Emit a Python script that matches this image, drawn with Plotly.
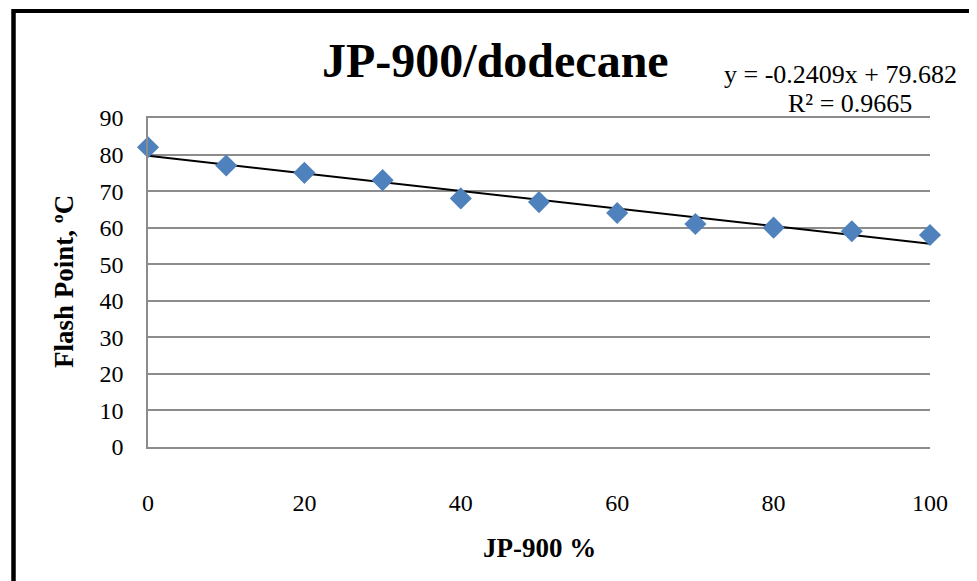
import plotly.graph_objects as go

# Data
jp900_pct = [0, 10, 20, 30, 40, 50, 60, 70, 80, 90, 100]
flash_point = [82, 77, 75, 73, 68, 67, 64, 61, 60, 59, 58]
slope = -0.2409
intercept = 79.682
x_ticks = [0, 20, 40, 60, 80, 100]
y_ticks = [0, 10, 20, 30, 40, 50, 60, 70, 80, 90]

trend_x = [min(jp900_pct), max(jp900_pct)]
trend_y = [slope * v + intercept for v in trend_x]

FONT = "Liberation Serif"
GRID = "#8C8C8C"

fig = go.Figure()
fig.add_trace(go.Scatter(
    x=trend_x, y=trend_y, mode="lines",
    line=dict(color="black", width=2), hoverinfo="skip", cliponaxis=False,
))
fig.add_trace(go.Scatter(
    x=jp900_pct, y=flash_point, mode="markers",
    marker=dict(symbol="diamond", size=17, color="#4F81BD"),
    cliponaxis=False,
))

# page body adds an 8px offset; work in screen coords and convert
OFF = 8
W, H = 977 - OFF, 581 - OFF
SL, SR, ST, SB = 148, 930, 118, 447  # plot area in screen px
L, T = SL - OFF, ST - OFF
R, B = W - (SR - OFF), H - (SB - OFF)
pw, ph = W - L - R, H - T - B

def px(xs):
    return (xs - OFF - L) / pw

def py(ys):
    return (H - B - (ys - OFF)) / ph

fig.update_layout(
    width=W, height=H,
    margin=dict(l=L, r=R, t=T, b=B),
    paper_bgcolor="white", plot_bgcolor="white",
    showlegend=False,
    font=dict(family=FONT, color="black"),
    xaxis=dict(
        range=[0, 100], tickvals=x_ticks, showgrid=False, zeroline=False,
        showline=True, mirror=True, linecolor=GRID, linewidth=1.5,
        ticks="", tickfont=dict(size=24, family=FONT),
        ticklabelstandoff=33,
    ),
    yaxis=dict(
        range=[0, 90], tickvals=y_ticks, showgrid=True, gridcolor=GRID,
        gridwidth=1.5, zeroline=False, showline=True, linecolor=GRID,
        linewidth=1.5, ticks="", tickfont=dict(size=24, family=FONT),
        ticklabelstandoff=18,
    ),
    shapes=[
        dict(type="line", xref="paper", yref="paper",
             x0=px(13.5), x1=px(990), y0=py(11), y1=py(11),
             line=dict(color="black", width=4)),
        dict(type="line", xref="paper", yref="paper",
             x0=px(13.5), x1=px(13.5), y0=py(9), y1=py(600),
             line=dict(color="black", width=4.5)),
    ],
    annotations=[
        dict(text="<b>JP-900/dodecane</b>", xref="paper", yref="paper",
             x=px(495), y=py(60), showarrow=False,
             font=dict(size=48, family=FONT), xanchor="center", yanchor="middle"),
        dict(text="y = -0.2409x + 79.682", xref="paper", yref="paper",
             x=px(959), y=py(74), showarrow=False,
             font=dict(size=26, family=FONT), xanchor="right", yanchor="middle"),
        dict(text="R² = 0.9665", xref="paper", yref="paper",
             x=px(914), y=py(104), showarrow=False,
             font=dict(size=26, family=FONT), xanchor="right", yanchor="middle"),
        dict(text="<b>Flash Point, ºC</b>", xref="paper", yref="paper",
             x=px(64), y=py(282), showarrow=False, textangle=-90,
             font=dict(size=27, family=FONT), xanchor="center", yanchor="middle"),
        dict(text="<b>JP-900 %</b>", xref="paper", yref="paper",
             x=px(539), y=py(548), showarrow=False,
             font=dict(size=27, family=FONT), xanchor="center", yanchor="middle"),
    ],
)

fig.write_html("out.html")
